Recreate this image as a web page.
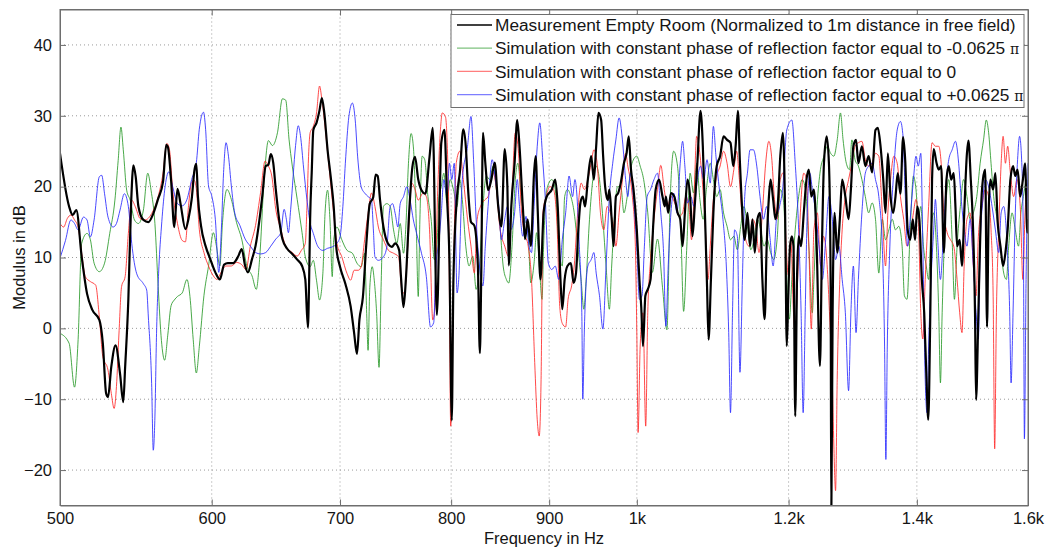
<!DOCTYPE html>
<html>
<head>
<meta charset="utf-8">
<script src="https://cdn.jsdelivr.net/npm/d3@7"></script>
<style>
  body { margin: 0; background: #fff; }
  text { font-family: 'Liberation Sans', Arial, Helvetica, sans-serif; }
</style>
</head>
<body>
<div id="chart"></div>
<script>
// values: [frequency in Hz, modulus in dB]
const measurement = [
  [500, 24.7], [505.5, 17.2], [507.7, 16], [509.9, 16.7], [513.2, 10.1], [516.5, 4.9], [519.8, 2.6], [524.2, 1.2],
  [526.4, -2.1], [528.5, -9.2], [529.7, -9.7], [531.8, -5.4], [534.5, -2.4], [537.4, -6.4], [539.5, -10.4], [540.7, -5.5],
  [542.8, 4.1], [544.6, 17.6], [546.1, 23], [547.6, 21.4], [549.4, 17.2], [552.7, 15.3], [556, 15], [559.3, 16.2],
  [562.6, 18.3], [565.9, 20.7], [568.1, 25.9], [569.2, 25.6], [571.4, 20.9], [573.6, 14.3], [575.8, 19.7], [578, 17.5],
  [581.3, 14], [583.5, 15.5], [585.7, 18.2], [587.8, 22.5], [589, 23.2], [590.1, 18.7], [592.3, 14.5], [595.6, 11.6],
  [598.9, 9.8], [602.6, 7.9], [605.9, 6.9], [609, 9], [611.7, 9.2], [615.6, 9.2], [619.5, 10.2], [622, 11.2],
  [624.6, 8.8], [626.7, 7.9], [629.8, 9.8], [632.4, 11.6], [635.1, 14.9], [637.6, 18.7], [640.2, 22.9], [642.3, 23.1],
  [644.1, 24.6], [646, 23.4], [648, 19.6], [650.6, 15.4], [653.2, 12.6], [657.1, 11.2], [661, 10.5], [664.9, 9.7],
  [668.8, 8.8], [671.4, 6.9], [673.5, 0.1], [674.5, 6.9], [675.3, 15.4], [676.6, 22], [677.9, 28], [680.5, 29],
  [683, 30.8], [684.9, 32.5], [686.9, 30.4], [689.6, 25.2], [692.2, 21.4], [694.7, 17.2], [696.8, 11.5], [700, 8.7],
  [704.5, 6.3], [709, 3.1], [712, -0.7], [714.4, -3.6], [716.5, 1.2], [719.5, 4.4], [722.5, 12], [725.5, 17.6],
  [728.5, 18.5], [730.6, 21.7], [732.4, 21.5], [734.5, 18.1], [737.5, 14.3], [741.4, 12], [745, 11.5], [748, 12],
  [751.6, 11], [753.4, 6.8], [755.5, 3], [757.6, 6.8], [760.6, 16.2], [763.6, 22.8], [766, 24.2], [769, 21],
  [772, 19.5], [775.6, 19], [779.5, 24.2], [782.5, 28.3], [786.4, 1.9], [790.6, 26.2], [793.6, 28], [796, 18.7],
  [798.4, 9.3], [800.6, -13], [802.2, 7], [805.7, 18.7], [808.4, 22], [811.8, 28.1], [814.2, 25.7], [816.5, 19.5],
  [819.3, 15], [822.6, 14.5], [826.1, 8.9], [828.1, -3.5], [829.4, 6.9], [831.2, 27.6], [833.5, 23.4], [836.3, 19.5],
  [839.6, 21], [843, 23.4], [846.5, 17.3], [849.8, 14.4], [853.2, 25.3], [855.9, 20.1], [857.3, 8.9], [860, 17.3],
  [863.4, 23.4], [866.1, 29.4], [868.5, 25.7], [871.9, 17.3], [874.3, 12.6], [877, 15.4], [880.4, 11.6], [883.8, 21.9],
  [885.5, 24.3], [887.8, 16.3], [890.6, 6.9], [894, 16.3], [897.4, 18.6], [902.9, 19.6], [906.6, 21], [909.3, 17.2],
  [912.3, 6.9], [914.3, 2.7], [916.9, 6.9], [920, 8.8], [923.8, 9.2], [926.8, 6.4], [929.5, 7.8], [932.1, 13.9],
  [934.4, 17.7], [937.1, 18.6], [939.7, 17.2], [942.8, 21], [946.6, 24.3], [949.7, 21], [952.3, 25.7], [954.9, 30.4],
  [958, 29.4], [960.3, 24.3], [962.6, 20], [965.7, 18.1], [967.5, 19.6], [970.2, 15.4], [972.5, 11.6], [975.1, 18.6],
  [977.8, 19.1], [980.8, 20.5], [984.6, 23.3], [987.7, 24.7], [990.3, 27.1], [993, 22.4], [996, 19.6], [999.9, 14],
  [1003.1, 6.9], [1005.3, 3], [1007.4, -2.5], [1010.3, 4.6], [1013.2, 5.5], [1016.6, 6.9], [1020, 14.9], [1022.9, 19.6],
  [1027.1, 21], [1031.3, 18.6], [1034.2, 17.2], [1035.5, 18.6], [1038.4, 16.3], [1041.8, 19.1], [1046, 18.6], [1050.2, 16.3],
  [1053.5, 15.4], [1056.5, 11.6], [1059.4, 16.3], [1062.8, 21], [1066.1, 18.6], [1069.1, 13], [1072, 17.2], [1075.4, 23.3],
  [1079.5, 30.7], [1082.5, 25.7], [1085, 17.2], [1088, 5.9], [1090, -1.6], [1093.1, 6.9], [1096.3, 16.3], [1100.7, 22.9],
  [1105.2, 24.3], [1109.8, 27.1], [1114.5, 26.6], [1119.1, 26.2], [1122.8, 22.9], [1126, 25.7], [1129.1, 30.7], [1131.9, 23.3],
  [1135.2, 16.3], [1138.4, 12.5], [1142.1, 16.3], [1145.7, 11.6], [1149, 15.4], [1152.2, 10.7], [1155.9, 15.4], [1159.5, 16.3],
  [1162.8, 6.9], [1166, 1.3], [1168.8, 11.6], [1172, 18.6], [1174.3, 21], [1178, 18.1], [1181.2, 15.4], [1184.4, 17.2],
  [1188.1, 24.3], [1191.8, 27.6], [1195, 16.3], [1197.4, -2.5], [1199.6, 4.6], [1202.1, 11.6], [1204.7, 13], [1207.1, 11.6],
  [1209.6, -12.4], [1212.2, 6.9], [1214.6, 13], [1218.2, 11.6], [1222.1, 16.3], [1226.1, 21], [1229.6, 22.4], [1233.2, 18.6],
  [1237.1, 19.6], [1241.2, 11.6], [1246.1, -5.3], [1249.1, 11.6], [1252.1, 23.3], [1256.2, 27.1], [1259.6, 23.3], [1262.2, 6.9],
  [1263.2, -27], [1265.2, 2.2], [1268.2, 16.3], [1272.2, 10.7], [1276.2, 15.4], [1279.8, 21], [1284.7, 18.6], [1289.7, 15.4],
  [1293.3, 19.6], [1297.2, 25.7], [1301.3, 26.6], [1305, 23.3], [1310.5, 25.7], [1315.9, 22.9], [1321.2, 24.3], [1326.7, 22],
  [1332.1, 28], [1335.8, 28.3], [1340.2, 25.7], [1344.6, 21], [1348.3, 16.3], [1352, 24.7], [1356.4, 18.6], [1360.8, 16.3],
  [1364.5, 18.6], [1368.2, 21.9], [1372.6, 19], [1377, 27], [1380.7, 23.4], [1384.5, 14], [1388.8, 12.5], [1393.2, 15.4],
  [1396.9, 12.5], [1400.7, 17.2], [1404.2, 15.4], [1408.4, 6.9], [1412.4, 2.2], [1415.9, -6.2], [1419.3, -12.9], [1422.8, 2.2],
  [1425.8, 21], [1428.6, 25.3], [1433.3, 23.4], [1437.3, 22.4], [1441.5, 22.9], [1446, 10.7], [1450.7, 21], [1454.7, 22.9],
  [1458.9, 21], [1463.4, 21.9], [1466.4, 17.2], [1469.3, 11.6], [1473.9, 12.5], [1478, 8.8], [1482, 16.3], [1486.8, 24.7],
  [1489.5, 26.5], [1493.7, 21], [1497.2, 15.4], [1501.3, 2.2], [1503.2, -10.1], [1507.4, 2.2], [1511.9, 16.3], [1515.6, 21],
  [1519.9, 22.4], [1523.1, 0.2], [1526.1, 16.3], [1529.2, 21], [1534.3, 19.6], [1538.5, 21.9], [1542.8, 14.9], [1547.9, 11.6],
  [1552.9, 8.8], [1557.2, 10.7], [1561.4, 14], [1566.5, 21], [1571.5, 22.9], [1575.8, 21.5], [1580.1, 22.4], [1585.1, 18.6],
  [1590.2, 21], [1594.4, 23.3], [1598.7, 13.5], [1600, 15.4]
]

const simMinus = [
  [500, -0.7], [505.5, -2.1], [508.8, -8.3], [511, -1.6], [513.2, 12], [516.5, 13.4], [518.6, 12.5], [520.9, 9.2],
  [524.2, 8], [527.5, 9.2], [530.8, 13.4], [534.1, 18.1], [536.2, 23.7], [538, 28.4], [539.5, 25.2], [541.7, 19.5],
  [544, 18.1], [546.8, 15.3], [549.4, 14.8], [552.7, 16.7], [555.6, 21.9], [557.8, 19.5], [560.4, 14.8], [562.6, 5.9],
  [564.8, -1.7], [567, -4.5], [569.2, -0.8], [571.4, 3.2], [573.6, 4], [575.8, 4.5], [579.1, 5], [582.4, 6.9],
  [584.5, 4.5], [586.8, -1.6], [589, -6.3], [591.1, -2.6], [594.4, 4.6], [597.7, 8.8], [601.2, 13.5], [603.3, 11.7],
  [605.9, 8.8], [607.8, 14.9], [611.1, 19.6], [614.3, 18.2], [618.2, 14.9], [622, 12.6], [625.9, 8.8], [629.8, 7.4],
  [633, 5.5], [635.5, 9.7], [639, 21], [642.3, 26.5], [645.4, 25.8], [649.3, 27.6], [653.2, 32.4], [655.8, 32.2],
  [658.4, 26.7], [661, 22.9], [664.9, 18.2], [668.8, 13.5], [671.4, 10.1], [675.3, 8.7], [677.9, 9.6], [680.5, 6.8],
  [683, 4], [685.7, 7.7], [687.5, 16.2], [689.6, 19.5], [691.6, 15.3], [693.5, 7.3], [694.7, 12.5], [697.4, 14.3],
  [701.5, 12.5], [706, 11], [710.5, 10.6], [714.4, 9.2], [718, 8.7], [721, 10.6], [722.8, 2.1], [724, -3.1],
  [725.5, 5.8], [727.6, 8.7], [729.4, 6.8], [731.5, 2.1], [733.6, -5.5], [735.4, 5.8], [737.5, 17.2], [740.5, 17.6],
  [743.5, 17.2], [746.5, 13.9], [749.5, 12], [752.5, 14.8], [755.5, 10.6], [757.6, 14.3], [760, 23.3], [762.4, 27.5],
  [764.5, 25.6], [766.9, 16.2], [769, 4.5], [770.5, 15.3], [772.6, 24.3], [775, 23.8], [778, 18.6], [781, 15.4],
  [784, 9.7], [786.4, 11.6], [788.5, 18.6], [790.6, 20], [793, 21.9], [796, 17.7], [799, 21], [802.2, 19.6],
  [805.7, 17.2], [808.4, 21], [810.8, 18.2], [814.2, 11.6], [817.5, 8.8], [821, 10.2], [824.4, 5.5], [827.7, 8.8],
  [831.2, 17.2], [834.5, 21.5], [837.9, 21], [841.4, 22.9], [844.7, 19.6], [848.1, 14.9], [851.6, 8.8], [854.9, 6.9],
  [857.3, 6.4], [860.7, 11.6], [864.1, 21], [866.8, 23.3], [870.2, 18.6], [873.6, 15.4], [877, 14.4], [880.4, 6.4],
  [883.8, 9.2], [886.5, 13.5], [889.3, 9.2], [892.3, 4.1], [894, 11.6], [897.4, 19.6], [902.9, 21], [906.6, 19.6],
  [910.4, 11.6], [914.3, 8.8], [916.9, 18.6], [920, 19.6], [923.8, 18.6], [927.5, 16.3], [931.4, 11.6], [935.2, 6.9],
  [938.3, 2.7], [940.9, 6.9], [944.7, 15.4], [948.5, 21], [952.3, 22.9], [956.1, 21], [960, 15.4], [963.7, 8.8],
  [967.5, 2.7], [970.2, 8.8], [973.2, 15.4], [977.1, 20], [980.9, 20], [984.6, 16.3], [988.5, 18.6], [994.2, 23.3],
  [999.9, 24.3], [1004, 22.9], [1008.2, 21], [1013.2, 16.3], [1018.8, 7.9], [1025.1, 12.6], [1031.3, 5.8], [1036.8, -0.2],
  [1040.9, 18.2], [1045.2, 25], [1050.2, 22.8], [1054.4, 13.5], [1057.8, 2.4], [1061.9, 11.6], [1066.1, 21.9], [1070.4, 19.1],
  [1074.5, 23.3], [1078.7, 18.2], [1083, 15.4], [1087.1, 19.6], [1092.2, 23.3],
  [1096.3, 21], [1100.7, 18.6], [1105.2, 19.6], [1109.8, 16.3], [1114.5, 14.4], [1119.1, 12.5], [1123.6, 13], [1128.3, 11.1],
  [1132.9, 14.4], [1137.4, 17.2], [1142.1, 14.4], [1146.7, 11.1], [1151.2, 12.5], [1155.9, 15.4], [1160.5, 13.9], [1165, 11.6],
  [1169.7, 12.5], [1174.3, 10.7], [1178.8, 9.7], [1183.5, 12.5], [1188.1, 19.6], [1192.7, 18], [1197.4, 6.9], [1201.1, 1.3],
  [1204.7, 6.9], [1209.6, 13.9], [1214.6, 18.6], [1219.7, 21], [1224.6, 19.6], [1229.6, 11.6], [1234.7, 2.2], [1237.1, 6.9],
  [1241.2, 16.3], [1246.1, 21.9], [1252.1, 24.3], [1257.2, 25.7], [1262.2, 24.7], [1267.1, 24.3], [1272.2, 26.6], [1277.2, 30.4],
  [1281.2, 26.6], [1286.2, 23.3], [1291.2, 22.4], [1294.8, 26.6], [1299.7, 23.8], [1305, 22.9], [1310.5, 21], [1315.9, 18.6],
  [1321.2, 16.3], [1326.7, 17.7], [1332.1, 15.4], [1337.4, 7.8], [1343, 15.4], [1348.3, 12.5], [1353.7, 13.9], [1359.2, 15.4],
  [1364.5, 13.9], [1369.9, 14.4], [1375.4, 11.6], [1379.2, 4.6], [1383.5, 4.1], [1388.8, 13.9], [1394.2, 21.5], [1398.5, 19.6],
  [1402.4, 15.4], [1406.6, 17.2], [1411.1, 11.6], [1415.9, 8.8], [1419.9, 6.9], [1424, 13.9], [1428.6, 16.3], [1433.3, 11.6],
  [1437.3, 2.2], [1440.2, -7.7], [1443.2, 2.2], [1449, 16.3], [1454.7, 21], [1460.6, 12.5], [1464.6, 4.1], [1469.3, 11.6],
  [1475.1, 17.2], [1480.8, 21], [1486.8, 18.6], [1492.5, 15.4], [1498.3, 16.3], [1504.5, 18.6], [1510.6, 23.3], [1516.8, 26.6],
  [1521.8, 29.4], [1526.1, 27.6], [1530.5, 23.3], [1535.4, 18.6], [1541.7, 15.4], [1547.9, 11.6], [1554, 7.8], [1559, 6.9],
  [1563.3, 11.6], [1569.6, 16.3], [1575.8, 13.9], [1581.9, 11.6], [1586.4, 16.3], [1591.2, 18.6], [1597.6, 21], [1600, 19.6]
]

const simZero = [
  [500, 14.8], [502.2, 14.3], [504.4, 15.5], [506.6, 16], [508.8, 15.3], [511, 14.3], [513.2, 10.6], [515.4, 7.3],
  [518.6, 6.6], [521.9, 6.1], [524.2, 1.6], [526.4, -4], [529.7, -5.9], [531.8, -9.2], [533.6, -11.3], [535.1, -8.2],
  [536.7, -0.8], [538.4, 5.9], [540.7, 7.3], [542.8, 13.4], [545, 18.1], [547.3, 17.2], [550.5, 15.5], [553.8, 15.3],
  [558.2, 16.2], [562.6, 18.6], [565.9, 21.9], [568.5, 26.1], [570.3, 25.2], [572.5, 19.5], [575.8, 14.8], [579.1, 12.4],
  [581.3, 12.2], [583.5, 17.3], [585.7, 20.6], [587.5, 20.9], [589, 19.7], [591.1, 14], [594.4, 10.7], [597.7, 8.8],
  [601.2, 7.4], [603.9, 6.9], [606.5, 7.8], [610.4, 8.8], [614.3, 8.8], [618.2, 9.3], [622, 9], [625.2, 8.3],
  [628.5, 11.6], [632.4, 14.5], [636.3, 19.2], [639.7, 23.6], [642.3, 22.9], [644.9, 21.5], [648, 16.8], [651.9, 14],
  [655.8, 11.6], [661, 10.7], [664.9, 10.2], [668.2, 11], [671.4, 12], [672.7, 17], [674.2, 25], [675.3, 27.6],
  [677.9, 28.5], [680.5, 30.4], [683, 34.2], [684.9, 32.3], [687.5, 28.5], [690.8, 22.8], [694.7, 16.2], [697.4, 12],
  [701.5, 10.1], [706, 7.7], [709, 6.8], [712, 8.2], [715.6, 8.2], [718, 8.7], [721, 12.5], [724, 16.2],
  [727, 19.1], [730, 17.2], [733, 14.3], [737.5, 12.5], [742, 11], [746.5, 10.6], [751, 10.1], [754, 5.4],
  [756.4, 4.9], [759.4, 11.5], [763, 20.5], [766, 19.6], [769, 18.1], [773.5, 19.1], [776.5, 18.6], [779.5, 13.9],
  [782.5, 1.2], [784, 2.1], [787, 18.6], [790, 28.5], [791.5, 30.4], [794.5, 29.9], [797.5, 18.6], [799.6, -13.8],
  [801.6, 2.1], [805, 23.4], [808.4, 25], [811.8, 21], [815.9, 15.4], [819.3, 11.6], [822.6, 7.8], [825.4, 15.4],
  [828.7, 17.2], [832.8, 18.1], [836.3, 18.6], [841.4, 22], [844.7, 19.6], [848.1, 14.4], [853.2, 11.6], [857.3, 10.1],
  [860.7, 19.1], [864.1, 27.6], [867.5, 24.7], [870.2, 17.2], [873.6, 13.5], [877.6, 11.6], [881.1, 6.9], [884.5, -4.8],
  [887.2, -12.9], [889.3, -15.2], [891.3, -7.2], [893.3, 16.3], [896.7, 18.6], [900.9, 20], [904.7, 19.6], [908.6, 14.4],
  [911.5, 3.1], [914.3, 0.7], [918, 0.2], [920.7, 4.1], [924.6, 6], [927.5, 8.8], [931.4, 16.3], [935.2, 20.5],
  [938.9, 19.6], [942.8, 21], [946.6, 23.3], [949.7, 25.2], [953.4, 23.3], [957.2, 16.3], [961.1, 13.9], [964.9, 17.2],
  [968.6, 16.3], [972.5, 14.4], [975.1, 11.6], [978.9, 16.3], [982.8, 21], [986.6, 24.7], [989.2, 22.9], [994.2, 19.1],
  [998, 12.5], [999.9, -0.1], [1001.5, -14.7], [1004, -2.5], [1007.4, 2.2], [1010.7, -13.8], [1013.2, 2.2], [1016.6, 9.7],
  [1020.8, 15.4], [1025.1, 19.6], [1029.2, 23], [1033.4, 19.6], [1037.6, 17.2], [1041.8, 18.6], [1048.1, 17.2], [1052.2, 15.8],
  [1056.5, 16.3], [1060.7, 18.6], [1064.8, 16.8], [1067.9, 12.5], [1071.1, 18.6], [1074.5, 27.1], [1077.4, 25.7], [1081.7, 21],
  [1085.9, 13.9], [1089.3, 6.9], [1092.2, 11.6], [1096.3, 18.2], [1100.7, 21.5], [1105.2, 22.9], [1109.8, 25], [1114.5, 23.3],
  [1119.1, 20], [1123.6, 22.4], [1127.3, 25], [1131.1, 21], [1135.2, 15.4], [1139.8, 12.5], [1144.3, 11.6], [1149, 15.4],
  [1153.6, 14.4], [1158.1, 10.7], [1162.8, 16.3], [1167.4, 23.3], [1171.9, 26.4], [1175.7, 24.3], [1179.8, 18.2], [1183.6, 15.4],
  [1188.1, 21], [1192.7, 22], [1196.4, 12], [1199.6, 7.5], [1203.2, 12.5], [1207.1, 2.2], [1209.6, -0.6], [1213.1, 6.9],
  [1217.1, 16.3], [1222.1, 21.9], [1226.1, 21], [1229.6, 11.6], [1233.2, -0.1], [1237.1, 13.9], [1242.2, 16.3], [1247.2, 8.8],
  [1251.2, 13], [1254.7, 11.6], [1258.1, 6.9], [1261.1, 0.8], [1264.7, -7.2], [1267.1, -16.6], [1269.7, -22.9], [1272.2, -7.2],
  [1276.2, 6.9], [1279.8, 13.9], [1284.7, 18.6], [1289.7, 21], [1294.8, 23.3], [1299.7, 25.7], [1305, 26.2], [1310.5, 26.4],
  [1315.9, 23.8], [1321.2, 22.9], [1326.7, 23.3], [1332.1, 24.7], [1337.4, 24.3], [1343, 16.3], [1348.3, 8.8], [1352, 16.3],
  [1356.4, 21], [1361.8, 24.3], [1367.3, 23.3], [1372.6, 18.6], [1378, 15.4], [1383.5, 11.6], [1388.8, 13], [1394.2, 16.3],
  [1398.5, 18.2], [1402.4, 15.4], [1406.6, 2.2], [1410.1, -1.5], [1414.1, 6.9], [1419.9, 17.2], [1425.8, 26.2], [1431.5, 25.7],
  [1437.3, 25.7], [1441.5, 23.3], [1446, 16.3], [1451.9, 13.5], [1457.7, 12.5], [1463.4, 11.6], [1469.3, 6.9], [1473.9, 2.2],
  [1478, -0.6], [1482, 9.2], [1486.8, 15.4], [1492.5, 16.3], [1498.3, 8.8], [1503.2, 4.6], [1507.4, 13], [1513.8, 17.2],
  [1519.9, 19.6], [1526.1, 18.6], [1530.5, 13.9], [1534.3, 5], [1537.2, -17], [1540.4, 2.2], [1544.7, 13.9], [1549.2, 23.3],
  [1552.9, 27.1], [1557.2, 23.3], [1561.4, 25.7], [1566.5, 21.9], [1572.6, 18.6], [1578.9, 21], [1585.1, 17.2], [1590.2, 6.9],
  [1594.4, 16.3], [1598.7, 20], [1600, 18.6]
]

const simPlus = [
  [500, 9.9], [503.3, 12.4], [506.6, 15.3], [508.8, 14.8], [511, 13.9], [514.3, 15.7], [516.5, 15.3], [518.6, 12.9],
  [520.9, 15.3], [524.2, 21.4], [525.7, 21.6], [527.5, 19], [529.7, 15.7], [533, 14.3], [535.1, 14.8], [537.4, 16.7],
  [540.2, 19], [542.8, 17.2], [545, 12], [548.3, 7.7], [552.7, 6.3], [554.9, 5.4], [556, 1.6], [558.2, -7.8],
  [559.3, -17.2], [560.4, -12.5], [561.5, -0.7], [563.1, 8.7], [564.8, 14.3], [567, 19.5], [569.9, 22.1], [572.5, 20],
  [575.8, 17.6], [579.1, 17.3], [582.4, 18.2], [585.7, 21], [589, 23.4], [591.1, 28.1], [594.1, 30.5], [595.6, 28.1],
  [597.7, 20.1], [600, 18.7], [602.6, 15.4], [605.1, 7.9], [607, 14], [608.6, 22], [610.4, 26.2], [612.2, 24.3],
  [614.3, 20.1], [616.8, 16.3], [620.7, 14.5], [624.6, 12.6], [628.5, 11.6], [632.4, 10.7], [636.3, 10.5], [640.2, 10.7],
  [644.1, 11.6], [648, 12.6], [651.9, 13.5], [654.5, 16.8], [656.3, 15.4], [657.9, 13.5], [659.7, 16.8], [663.6, 25.8],
  [665.7, 28.6], [667.5, 27.2], [670.1, 22.5], [672.7, 18.2], [675.3, 14.9], [677.9, 13.4], [681.8, 11.5], [685.7, 11],
  [689.6, 11.3], [693.5, 11.5], [697.4, 12], [700, 12.9], [702.4, 17.2], [704.5, 23.3], [707.5, 29.9], [710.5, 31.8],
  [712.9, 29.4], [715, 24.2], [718, 20], [721, 19.1], [724, 18.6], [727, 18.1], [728.5, 14.3], [730, 10.1],
  [733, 9.6], [737.5, 10.1], [740.5, 11.5], [743.5, 17.2], [745.6, 17.6], [748, 16.2], [750.4, 14.3], [752.5, 17.6],
  [755.5, 18.6], [758.5, 20], [761.5, 18.1], [764.5, 15.3], [767.5, 13.4], [772, 10.6], [776.5, 7.3], [780.4, 0.2],
  [783.4, 0.8], [785.5, 8.8], [788.5, 12.5], [790.6, 16.3], [793, 21], [796, 18.6], [798.4, 23.3], [800.6, 21],
  [803, 23.3], [805.7, 5], [807.3, 6.9], [810.8, 21], [815.9, 25.7], [819.3, 29.9], [822, 23.3], [824.4, 15.4],
  [827.7, 8.8], [831.2, 6], [833.5, 11.6], [836.3, 17.2], [840.4, 23.8], [843.7, 21], [847.1, 17.2], [849.8, 12.5],
  [853.2, 15.4], [855.9, 17.2], [859.3, 13.9], [863.4, 16.3], [866.1, 21], [868.5, 17.2], [871.9, 13], [875.3, 15.8],
  [877.6, 12.5], [881.1, 10.7], [883.8, 17.2], [887.2, 25.7], [889.9, 29], [893.3, 23.3], [895.7, 18.6], [899.1, 9.2],
  [902.9, 8.3], [906.6, 8.8], [910.4, 6.9], [914.3, 12.5], [918, 16.3], [921.8, 21.5], [925.7, 18.6], [928.3, 21],
  [930.6, 18.6], [933.2, 11.6], [936, 2.2], [937.1, -10], [938.9, -0.1], [942.8, 8.8], [946.6, 9.7], [949.7, 10.7],
  [952.3, 7.8], [956.1, 4.6], [960, -0.1], [963.7, 8.8], [967.5, 18.6], [971.4, 23.3], [975.1, 26.6], [978.9, 29.7],
  [982.8, 26.6], [986.6, 21], [989.2, 18.6], [992.3, 21.9], [996.1, 18.2], [999.9, 11.6], [1003.1, 4.1], [1006.2, 4.6],
  [1009.1, 11.6], [1012.5, 18.6], [1016.6, 19.6], [1020.8, 21], [1025.1, 21.9], [1029.2, 16.3], [1032.6, 10.7], [1035.5, 0.3],
  [1038.4, 8.8], [1041.8, 16.3], [1045.2, 19.1], [1049.4, 16.3], [1053.5, 23.3], [1056.5, 26.4], [1059.4, 22.9], [1062.8, 17.7],
  [1066.9, 18.6], [1071.1, 17.2], [1075.4, 21], [1079.5, 22.9], [1083.7, 21], [1088, 23.8], [1092.2, 20.5], [1096.3, 28.5],
  [1099.7, 24.3], [1104.3, 19.6], [1109, 15.4], [1113.5, 8.8], [1116.7, -0.6], [1119.1, -11.9], [1121.8, 2.2], [1124.6, 13.9],
  [1128.3, 13], [1131.9, -6.2], [1135.2, 6.9], [1138.4, 18.6], [1142.1, 21.9], [1145.7, 25.2], [1150.4, 25.2], [1155, 22.9],
  [1159.5, 18.6], [1164.2, 15.4], [1168.8, 17.2], [1173.3, 13], [1178, 8.8], [1182.6, 15.4], [1187.1, 17.2], [1191.8, 20],
  [1197.4, 28], [1204.7, 29.4], [1209.6, 23.3], [1214.6, 13.9], [1218.2, 2.2], [1221.2, -11.9], [1224.2, 2.2], [1227.2, 16.3],
  [1231.1, 21.9], [1234.7, 19.6], [1239.7, 16.3], [1244.6, 11.6], [1249.7, 6.9], [1254.7, 12.5], [1259.6, 18.6], [1264.7, 15.4],
  [1269.7, 9.7], [1274.7, 11.6], [1279.8, 6.9], [1284.7, 2.2], [1289.7, -8.8], [1293.3, 2.2], [1297.2, 8.8], [1301.3, -0.6],
  [1305, 6.9], [1310.5, 16.3], [1315.9, 21.9], [1321.2, 22.9], [1326.7, 23.3], [1332.1, 21], [1337.4, 18.6], [1343, 11.6],
  [1346.7, -2.5], [1348.8, -18.5], [1351.1, -2.5], [1355.3, 11.6], [1360.8, 21], [1367.3, 28], [1372.6, 29.2], [1377, 27],
  [1380.7, 18.6], [1384.5, 11.6], [1388.8, 15.4], [1394.2, 21], [1398.5, 24.3], [1402.4, 22.9], [1406.6, 24.7], [1410.1, 11.6],
  [1414.1, -7.2], [1417.1, -11.9], [1419.9, -2.5], [1424, 6.9], [1428.6, 13.9], [1431.5, 18.2], [1435.5, 12.5], [1440.2, 6.9],
  [1444.9, 12.5], [1450.7, 21], [1454.7, 23.8], [1460.6, 25.2], [1466.4, 26.4], [1472.1, 23.3], [1476.3, 18.6], [1482, 13.9],
  [1486.8, 11.6], [1492.5, 15.4], [1498.3, 8.8], [1503.2, 2.2], [1507.4, -1.5], [1510.6, 11.6], [1515.6, 18.2], [1519.9, 21],
  [1526.1, 20], [1532.4, 17.2], [1538.5, 13.9], [1544.7, 10.7], [1549.2, 16.3], [1554, 17.2], [1560.4, 11.6], [1565.2, 2.2],
  [1567.8, -7.7], [1571.5, 2.2], [1575.8, 16.3], [1580.1, 23.8], [1583.9, 27.1], [1588.3, 22.9], [1591.2, 11.6], [1593.1, -15.6],
  [1596.3, 6.9], [1599.4, 21], [1600, 23.3]
]

const xTicks = [500, 600, 700, 800, 900, 1000, 1200, 1400, 1600]
const xTickLabels = ['500', '600', '700', '800', '900', '1k', '1.2k', '1.4k', '1.6k']
const yTicks = [-20, -10, 0, 10, 20, 30, 40]

const seriesNames = [
  'Measurement Empty Room (Normalized to 1m distance in free field)',
  'Simulation with constant phase of reflection factor equal to -0.0625 ',
  'Simulation with constant phase of reflection factor equal to 0',
  'Simulation with constant phase of reflection factor equal to +0.0625 '
]
const seriesColors = ['#000000', '#2a9a2a', '#ff2a2a', '#2a2aff']
const seriesWidths = [2.2, 1, 1, 1]
const seriesPi = [false, true, false, true]
const seriesData = [measurement, simMinus, simZero, simPlus]

const margin = { top: 9.5, left: 60, right: 23, bottom: 42.5 }
const width = 1051 - margin.left - margin.right
const height = 548 - margin.top - margin.bottom

const frame = d3
  .select('#chart')
  .append('svg')
  .attr('width', 1051)
  .attr('height', 548)

const svg = frame
  .append('g')
  .attr('transform', 'translate(' + margin.left + ',' + margin.top + ')')

const xPositionScale = d3
  .scaleLog()
  .domain([500, 1600])
  .range([0, width])

const yPositionScale = d3
  .scaleLinear()
  .domain([-25, 45])
  .range([height, 0])

svg
  .append('clipPath')
  .attr('id', 'plot-clip')
  .append('rect')
  .attr('width', width)
  .attr('height', height)

// dotted grid
svg
  .selectAll('.ygrid')
  .data(yTicks)
  .enter()
  .append('line')
  .attr('class', 'ygrid')
  .attr('x1', 0)
  .attr('x2', width)
  .attr('y1', d => yPositionScale(d))
  .attr('y2', d => yPositionScale(d))
  .attr('stroke', '#9a9a9a')
  .attr('stroke-width', 1)
  .attr('stroke-dasharray', '1,3')

svg
  .selectAll('.xgrid')
  .data(xTicks.slice(1, -1))
  .enter()
  .append('line')
  .attr('class', 'xgrid')
  .attr('y1', 0)
  .attr('y2', height)
  .attr('x1', d => xPositionScale(d))
  .attr('x2', d => xPositionScale(d))
  .attr('stroke', '#9a9a9a')
  .attr('stroke-width', 1)
  .attr('stroke-dasharray', '1,3')

const line = d3
  .line()
  .curve(d3.curveMonotoneX)
  .x(d => xPositionScale(d[0]))
  .y(d => yPositionScale(d[1]))

// simulations first, measurement on top
const drawOrder = [1, 2, 3, 0]
svg
  .append('g')
  .attr('clip-path', 'url(#plot-clip)')
  .selectAll('path')
  .data(drawOrder)
  .enter()
  .append('path')
  .attr('d', i => line(seriesData[i]))
  .attr('fill', 'none')
  .attr('stroke', i => seriesColors[i])
  .attr('stroke-width', i => seriesWidths[i])
  .attr('stroke-linejoin', 'round')
  .attr('opacity', i => (i === 0 ? 1 : 0.85))

// axes, ticks pointing inward on all four sides
const xAxis = d3
  .axisBottom(xPositionScale)
  .tickValues(xTicks)
  .tickFormat((d, i) => xTickLabels[i])
  .tickSizeInner(-6)
  .tickSizeOuter(0)
  .tickPadding(7)

const yAxis = d3
  .axisLeft(yPositionScale)
  .tickValues(yTicks)
  .tickSizeInner(-6)
  .tickSizeOuter(0)
  .tickPadding(8)

svg
  .append('g')
  .attr('class', 'axis')
  .attr('transform', 'translate(0,' + height + ')')
  .call(xAxis)

svg
  .append('g')
  .attr('class', 'axis')
  .call(yAxis)

svg
  .append('g')
  .attr('class', 'axis')
  .call(
    d3
      .axisTop(xPositionScale)
      .tickValues(xTicks)
      .tickFormat('')
      .tickSizeInner(-6)
      .tickSizeOuter(0)
  )

svg
  .append('g')
  .attr('class', 'axis')
  .attr('transform', 'translate(' + width + ',0)')
  .call(
    d3
      .axisRight(yPositionScale)
      .tickValues(yTicks)
      .tickFormat('')
      .tickSizeInner(-6)
      .tickSizeOuter(0)
  )

svg.selectAll('.axis .domain').attr('stroke', '#6e6e6e')
svg.selectAll('.axis line').attr('stroke', '#6e6e6e')
svg
  .selectAll('.axis text')
  .attr('fill', '#151515')
  .style('font-size', '16.5px')
  .style('font-family', "'Liberation Sans', Arial, sans-serif")

svg
  .append('rect')
  .attr('width', width)
  .attr('height', height)
  .attr('fill', 'none')
  .attr('stroke', '#6e6e6e')
  .attr('stroke-width', 1)

// axis titles
frame
  .append('text')
  .text('Frequency in Hz')
  .attr('x', margin.left + width / 2)
  .attr('y', 544)
  .attr('text-anchor', 'middle')
  .attr('font-size', 16.5)
  .attr('fill', '#151515')

frame
  .append('text')
  .text('Modulus in dB')
  .attr('transform', 'translate(25,' + (margin.top + height / 2) + ') rotate(-90)')
  .attr('text-anchor', 'middle')
  .attr('font-size', 16.5)
  .attr('fill', '#151515')

// legend
const legend = frame.append('g').attr('transform', 'translate(451,14.5)')
legend
  .append('rect')
  .attr('width', 573)
  .attr('height', 93)
  .attr('fill', '#fff')
  .attr('stroke', '#6e6e6e')
  .attr('stroke-width', 1)

const rows = legend
  .selectAll('.row')
  .data(seriesNames)
  .enter()
  .append('g')
  .attr('class', 'row')
  .attr('transform', (d, i) => 'translate(0,' + (10.5 + i * 23.2) + ')')

rows
  .append('line')
  .attr('x1', 6)
  .attr('x2', 41)
  .attr('stroke', (d, i) => seriesColors[i])
  .attr('stroke-width', (d, i) => (i === 0 ? 1.6 : 1.2))
  .attr('opacity', (d, i) => (i === 0 ? 1 : 0.6))

const labels = rows
  .append('text')
  .attr('x', 44)
  .attr('dy', '0.36em')
  .attr('font-size', 17.3)
  .attr('fill', '#151515')
  .text(d => d)

labels
  .filter((d, i) => seriesPi[i])
  .append('tspan')
  .attr('font-family', "'DejaVu Serif', serif")
  .attr('font-size', 14)
  .text('π')
</script>
</body>
</html>
